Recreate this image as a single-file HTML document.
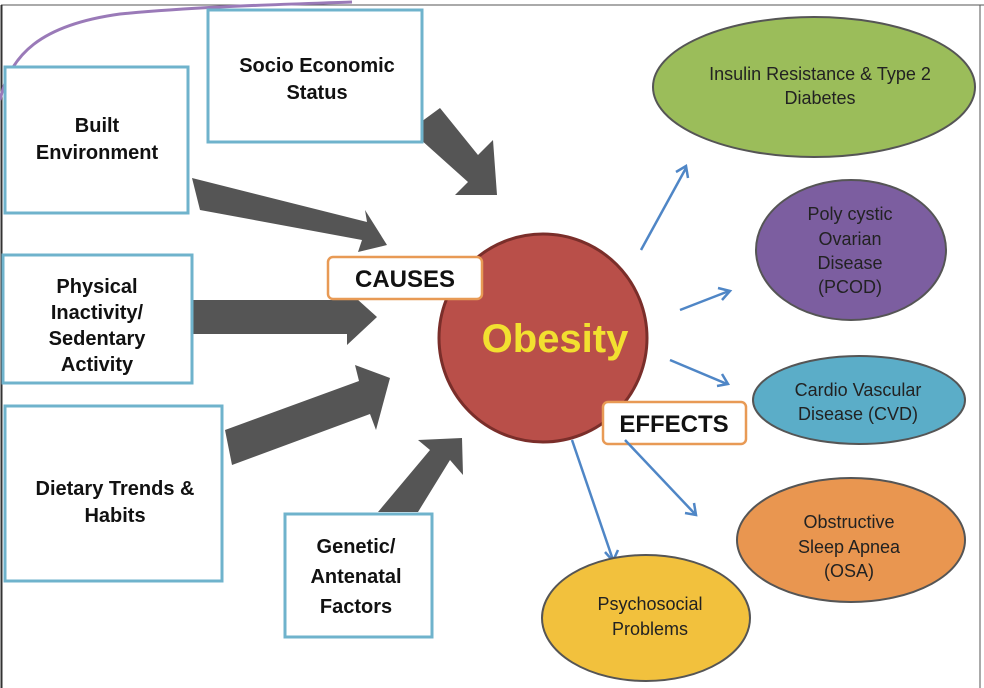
<!DOCTYPE html>
<html><head><meta charset="utf-8"><style>
html,body{margin:0;padding:0;background:#fff;}
svg{display:block;}
text{font-family:"Liberation Sans",sans-serif;}
</style></head><body>
<svg width="984" height="688" viewBox="0 0 984 688" xmlns="http://www.w3.org/2000/svg">
<rect x="0" y="0" width="984" height="688" fill="#fff"/>
<line x1="1" y1="5" x2="984" y2="5" stroke="#555" stroke-width="1"/>
<line x1="1.5" y1="5" x2="1.5" y2="688" stroke="#333" stroke-width="2"/>
<line x1="980" y1="5" x2="980" y2="688" stroke="#555" stroke-width="1"/>
<path d="M0,100 C10,55 40,25 120,14 C200,6 300,4 352,2" fill="none" stroke="#9a7ab8" stroke-width="3"/>

<!-- dark arrows -->
<g fill="#555">
<polygon points="410,130 440,108 478,155 493,140 497,195 455,195 468,182"/>
<polygon points="192,178 200,210 362,240 358,252 387,245 365,210 367,222"/>
<polygon points="192,300 192,334 347,334 347,345 377,317 347,290 347,300"/>
<polygon points="225,430 232,465 370,414 376,430 390,378 355,365 359,381"/>
<polygon points="378,512 418,512 450,460 463,475 462,438 418,440 430,450"/>
</g>

<!-- cause boxes -->
<g fill="#fff" stroke="#6fb3cc" stroke-width="3">
<rect x="208" y="10" width="214" height="132"/>
<rect x="5" y="67" width="183" height="146"/>
<rect x="3" y="255" width="189" height="128"/>
<rect x="5" y="406" width="217" height="175"/>
<rect x="285" y="514" width="147" height="123"/>
</g>
<g font-weight="bold" font-size="20" fill="#111" text-anchor="middle">
<text x="317" y="72">Socio Economic</text><text x="317" y="99">Status</text>
<text x="97" y="132">Built</text><text x="97" y="159">Environment</text>
<text x="97" y="293">Physical</text><text x="97" y="319">Inactivity/</text><text x="97" y="345">Sedentary</text><text x="97" y="371">Activity</text>
<text x="115" y="495">Dietary Trends &amp;</text><text x="115" y="522">Habits</text>
<text x="356" y="553">Genetic/</text><text x="356" y="583">Antenatal</text><text x="356" y="613">Factors</text>
</g>

<!-- circle -->
<circle cx="543" cy="338" r="104" fill="#b94f49" stroke="#7a2e2a" stroke-width="3"/>
<text x="555" y="352" font-size="40" font-weight="bold" fill="#f2e030" text-anchor="middle">Obesity</text>

<rect x="328" y="257" width="154" height="42" rx="5" fill="#fff" stroke="#e89a55" stroke-width="2.5"/>
<text x="405" y="287" font-size="24" font-weight="bold" fill="#111" text-anchor="middle">CAUSES</text>
<rect x="603" y="402" width="143" height="42" rx="5" fill="#fff" stroke="#e89a55" stroke-width="2.5"/>
<text x="674" y="432" font-size="24" font-weight="bold" fill="#111" text-anchor="middle">EFFECTS</text>

<!-- blue arrows -->
<g stroke="#4f86c6" stroke-width="2.5" fill="none">
<line x1="641" y1="250" x2="686" y2="168"/><polyline points="676,172 686,166 688,178"/>
<line x1="680" y1="310" x2="729" y2="291"/><polyline points="718,288 730,291 722,300"/>
<line x1="670" y1="360" x2="727" y2="384"/><polyline points="722,374 728,384 717,386"/>
<line x1="625" y1="440" x2="695" y2="514"/><polyline points="694,503 696,515 685,513"/>
<line x1="572" y1="440" x2="613" y2="560"/><polyline points="605,552 613,561 618,550"/>
</g>

<!-- effect ellipses -->
<g stroke="#555" stroke-width="2">
<ellipse cx="814" cy="87" rx="161" ry="70" fill="#9bbd5a"/>
<ellipse cx="851" cy="250" rx="95" ry="70" fill="#7c5ea0"/>
<ellipse cx="859" cy="400" rx="106" ry="44" fill="#5badc8"/>
<ellipse cx="851" cy="540" rx="114" ry="62" fill="#e99650"/>
<ellipse cx="646" cy="618" rx="104" ry="63" fill="#f2c13d"/>
</g>
<g font-size="18" fill="#222" text-anchor="middle">
<text x="820" y="80">Insulin Resistance &amp; Type 2</text><text x="820" y="104">Diabetes</text>
<text x="850" y="220">Poly cystic</text><text x="850" y="245">Ovarian</text><text x="850" y="269">Disease</text><text x="850" y="293">(PCOD)</text>
<text x="858" y="396">Cardio Vascular</text><text x="858" y="420">Disease (CVD)</text>
<text x="849" y="528">Obstructive</text><text x="849" y="553">Sleep Apnea</text><text x="849" y="577">(OSA)</text>
<text x="650" y="610">Psychosocial</text><text x="650" y="635">Problems</text>
</g>
</svg>
</body></html>
